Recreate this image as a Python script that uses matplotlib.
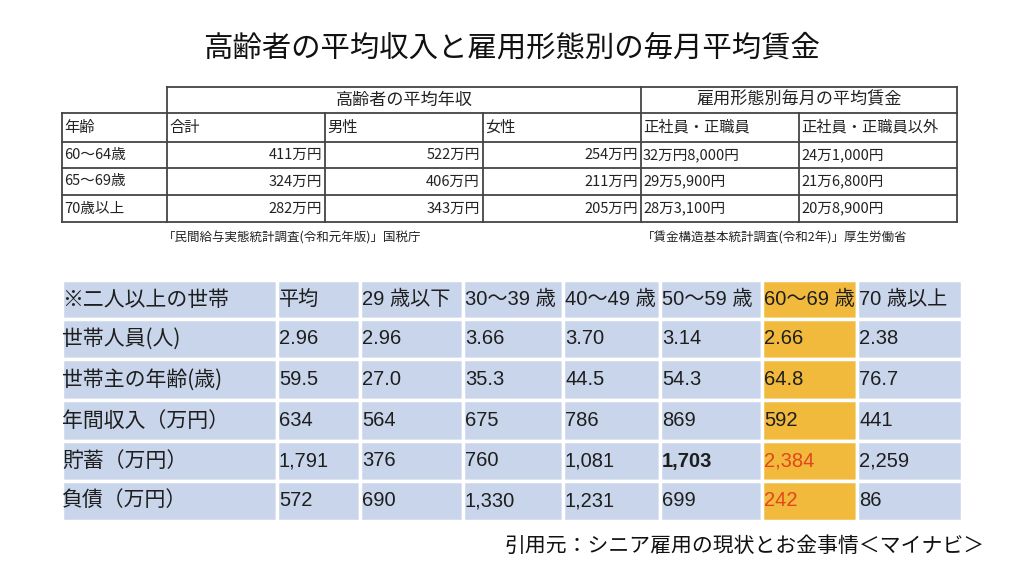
import matplotlib.pyplot as plt
from matplotlib.patches import Rectangle

plt.rcParams['font.family'] = ['Noto Sans CJK JP', 'DejaVu Sans']
latin_first = ['Liberation Sans', 'Noto Sans CJK JP']

# title and sources
title = "高齢者の平均収入と雇用形態別の毎月平均賃金"
source_income = "「民間給与実態統計調査(令和元年版)」国税庁"
source_wage = "「賃金構造基本統計調査(令和2年)」厚生労働省"
citation = "引用元：シニア雇用の現状とお金事情＜マイナビ＞"

# upper table data
top_groups = ["高齢者の平均年収", "雇用形態別毎月の平均賃金"]
top_headers = ["年齢", "合計", "男性", "女性", "正社員・正職員", "正社員・正職員以外"]
top_ages = ["60～64歳", "65～69歳", "70歳以上"]
income_total = ["411万円", "324万円", "282万円"]
income_male = ["522万円", "406万円", "343万円"]
income_female = ["254万円", "211万円", "205万円"]
wage_regular = ["32万円8,000円", "29万5,900円", "28万3,100円"]
wage_nonregular = ["24万1,000円", "21万6,800円", "20万8,900円"]

# lower table data
hh_corner = "※二人以上の世帯"
hh_cols = ["平均", "29 歳以下", "30～39 歳", "40～49 歳", "50～59 歳", "60～69 歳", "70 歳以上"]
hh_rows = ["世帯人員(人)", "世帯主の年齢(歳)", "年間収入（万円）", "貯蓄（万円）", "負債（万円）"]
hh_members = ["2.96", "2.96", "3.66", "3.70", "3.14", "2.66", "2.38"]
hh_age = ["59.5", "27.0", "35.3", "44.5", "54.3", "64.8", "76.7"]
hh_income = ["634", "564", "675", "786", "869", "592", "441"]
hh_savings = ["1,791", "376", "760", "1,081", "1,703", "2,384", "2,259"]
hh_debt = ["572", "690", "1,330", "1,231", "699", "242", "86"]

fig = plt.figure(figsize=(10.24, 5.76), dpi=100)
ax = fig.add_axes([0, 0, 1, 1])
ax.set_xlim(0, 1024)
ax.set_ylim(576, 0)
ax.axis("off")

ax.text(512, 48, title, fontsize=21.2, ha="center", va="center", color="#111111")

# ---- upper table ----
tx = [62, 167, 325, 483, 641, 799, 957]
ty = [87, 113, 142, 168, 195, 222]
lc = "#444444"
lw = 1.3
# group header row (no cell above the age column)
ax.plot([tx[1], tx[-1]], [ty[0], ty[0]], color=lc, lw=lw)
for x in [tx[1], tx[4], tx[6]]:
    ax.plot([x, x], [ty[0], ty[1]], color=lc, lw=lw)
for y in ty[1:]:
    ax.plot([tx[0], tx[-1]], [y, y], color=lc, lw=lw)
for x in tx:
    ax.plot([x, x], [ty[1], ty[-1]], color=lc, lw=lw)

ax.text((tx[1] + tx[4]) / 2, (ty[0] + ty[1]) / 2, top_groups[0], fontsize=12.3,
        ha="center", va="center", color="#222222")
ax.text((tx[4] + tx[6]) / 2, (ty[0] + ty[1]) / 2, top_groups[1], fontsize=12.3,
        ha="center", va="center", color="#222222")
for i, h in enumerate(top_headers):
    ax.text(tx[i] + 2, (ty[1] + ty[2]) / 2, h, fontsize=11, ha="left", va="center", color="#222222")

top_cols = [top_ages, income_total, income_male, income_female, wage_regular, wage_nonregular]
for j, col in enumerate(top_cols):
    for r, val in enumerate(col):
        yc = (ty[r + 2] + ty[r + 3]) / 2
        if j in (1, 2, 3):
            ax.text(tx[j + 1] - 3, yc, val, fontsize=10.5, ha="right", va="center", color="#222222")
        else:
            ax.text(tx[j] + 2, yc, val, fontsize=10.5, ha="left", va="center", color="#222222")

ax.text(163, 238, source_income, fontsize=9, ha="left", va="center", color="#222222")
ax.text(642, 238, source_wage, fontsize=9, ha="left", va="center", color="#222222")

# ---- lower table ----
bx = [62, 277, 360, 463, 563, 660, 762, 857, 962]
by = [280, 319, 359, 400, 441, 481, 521]
blue = "#c8d5ea"
orange = "#f1ba3d"
red = "#e2461f"
txt = "#1e1e1e"
highlight_col = 5

table_rows = [hh_members, hh_age, hh_income, hh_savings, hh_debt]
for r in range(len(by) - 1):
    for c in range(len(bx) - 1):
        fc = orange if c - 1 == highlight_col else blue
        ax.add_patch(Rectangle((bx[c], by[r]), bx[c + 1] - bx[c], by[r + 1] - by[r],
                               facecolor=fc, edgecolor="white", lw=2.5))

ax.text(bx[0], (by[0] + by[1]) / 2, hh_corner, fontsize=15, ha="left", va="center", color=txt)
for c, h in enumerate(hh_cols):
    ax.text(bx[c + 1] + 2, (by[0] + by[1]) / 2, h, fontsize=14.5, ha="left", va="center",
            color=txt, family=latin_first)
for r, label in enumerate(hh_rows):
    yc = (by[r + 1] + by[r + 2]) / 2
    ax.text(bx[0], yc, label, fontsize=15, ha="left", va="center", color=txt)
    for c, val in enumerate(table_rows[r]):
        color = txt
        weight = "normal"
        if c == highlight_col and r >= 3:
            color = red
        if c == 4 and r == 3:
            weight = "bold"
        ax.text(bx[c + 1] + 2, yc, val, fontsize=14.5, ha="left", va="center",
                color=color, fontweight=weight, family=latin_first)

ax.text(985, 546, citation, fontsize=15, ha="right", va="center", color="#111111")

fig.savefig("out.png", dpi=100)
